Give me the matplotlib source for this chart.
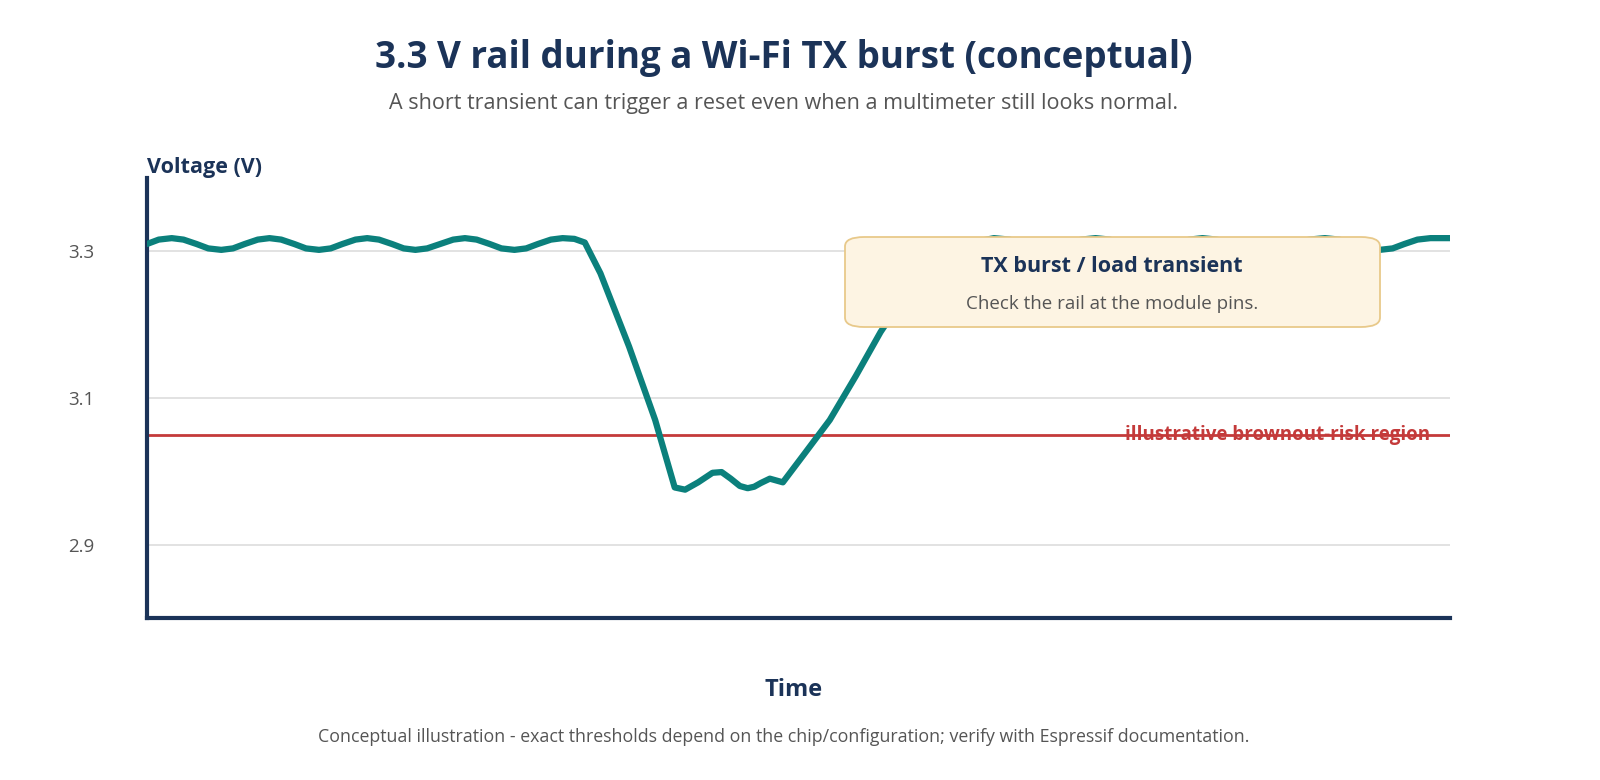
import matplotlib.pyplot as plt
from matplotlib.patches import FancyBboxPatch

plt.rcParams['font.family'] = ['Open Sans', 'Noto Sans', 'DejaVu Sans']

NAVY = '#1b3358'
GRAY = '#555555'
TEAL = '#0b807c'
RED = '#c43a3a'

# time in arbitrary units (0..100), voltage in V
time = [0, 0.9, 1.9, 2.8, 3.8, 4.7, 5.7, 6.6, 7.5, 8.5, 9.4, 10.3, 11.3, 12.2, 13.2,
        14.1, 15.0, 16.0, 16.9, 17.8, 18.8, 19.7, 20.6, 21.5, 22.5, 23.5, 24.4,
        25.3, 26.3, 27.2, 28.2, 29.1, 30.0, 31.0, 31.9, 32.8, 33.6, 34.8, 37.0, 39.0,
        40.5, 41.3, 42.3, 43.4, 44.1, 44.8, 45.5, 46.1, 46.6, 47.1, 47.8, 48.8,
        50.5, 52.4, 54.4, 56.3, 57.8, 59.3, 60.9, 62.4, 63.9, 65.0, 66.2, 67.3,
        68.5, 69.6, 70.6, 71.7, 72.8, 73.9, 74.9, 76.0, 77.0, 78.0, 79.0, 80.0,
        81.0, 82.1, 83.2, 84.3, 85.4, 86.6, 87.9, 89.2, 90.4, 91.5, 92.5, 93.6,
        94.6, 95.6, 96.5, 97.5, 98.5, 100]
volts = [3.31, 3.316, 3.318, 3.316, 3.31, 3.304, 3.302, 3.304, 3.31, 3.316, 3.318,
         3.316, 3.31, 3.304, 3.302, 3.304, 3.31, 3.316, 3.318, 3.316, 3.31, 3.304,
         3.302, 3.304, 3.31, 3.316, 3.318, 3.316, 3.31, 3.304, 3.302, 3.304, 3.31,
         3.316, 3.318, 3.317, 3.312, 3.27, 3.17, 3.07,
         2.978, 2.975, 2.985, 2.998, 2.999, 2.99, 2.98, 2.977, 2.979, 2.984, 2.99, 2.985,
         3.025, 3.07, 3.13, 3.19, 3.23, 3.26, 3.285, 3.30, 3.314, 3.318, 3.316, 3.31,
         3.302, 3.304, 3.31, 3.316, 3.318, 3.316, 3.31, 3.304, 3.302, 3.304, 3.31,
         3.316, 3.318, 3.316, 3.31, 3.304, 3.302, 3.304, 3.31, 3.316, 3.318, 3.316,
         3.31, 3.304, 3.302, 3.304, 3.31, 3.316, 3.318, 3.318]
yticks = [2.9, 3.1, 3.3]
brownout = 3.05

fig = plt.figure(figsize=(16, 7.8), dpi=100)
ax = fig.add_axes([147 / 1600, 1 - 618 / 780, 1303 / 1600, 440 / 780])

ax.set_xlim(0, 100)
ax.set_ylim(2.8, 3.4)
ax.set_yticks(yticks)
ax.set_yticklabels([f'{v:.1f}' for v in yticks], color=GRAY, fontsize=13.5)
ax.set_xticks([])
ax.tick_params(axis='y', length=0, pad=38)
ax.grid(axis='y', color='#dddddd', lw=1.2)
ax.set_axisbelow(True)
for s in ['top', 'right']:
    ax.spines[s].set_visible(False)
for s in ['left', 'bottom']:
    ax.spines[s].set_color(NAVY)
    ax.spines[s].set_linewidth(3)

ax.plot(time, volts, color=TEAL, lw=4.5, solid_joinstyle='round', solid_capstyle='round', zorder=3)

ax.text(98.5, brownout, 'illustrative brownout-risk region', color=RED, fontsize=13.5,
        fontweight='bold', ha='right', va='center', zorder=2)
ax.axhline(brownout, color=RED, lw=2, zorder=2.5)

box = FancyBboxPatch((845 / 1600, 1 - 327 / 780), 535 / 1600, 90 / 780,
                     boxstyle='round,pad=0,rounding_size=0.012', transform=fig.transFigure,
                     facecolor='#fdf4e3', edgecolor='#e8c98a', lw=1.3, zorder=5)
fig.add_artist(box)
fig.text(1112 / 1600, 1 - 266 / 780, 'TX burst / load transient', ha='center', va='center',
         fontsize=15.5, fontweight='bold', color=NAVY, zorder=6)
fig.text(1112 / 1600, 1 - 304 / 780, 'Check the rail at the module pins.', ha='center',
         va='center', fontsize=13.5, color=GRAY, zorder=6)

fig.text(784 / 1600, 1 - 58 / 780, '3.3 V rail during a Wi-Fi TX burst (conceptual)', ha='center',
         va='center', fontsize=26.5, fontweight='bold', color=NAVY)
fig.text(784 / 1600, 1 - 104 / 780, 'A short transient can trigger a reset even when a multimeter still looks normal.',
         ha='center', va='center', fontsize=15.5, color=GRAY)
fig.text(147 / 1600, 1 - 168 / 780, 'Voltage (V)', ha='left', va='center', fontsize=15.5,
         fontweight='bold', color=NAVY)
fig.text(794 / 1600, 1 - 690 / 780, 'Time', ha='center', va='center', fontsize=17,
         fontweight='bold', color=NAVY)
fig.text(784 / 1600, 1 - 737 / 780,
         'Conceptual illustration - exact thresholds depend on the chip/configuration; verify with Espressif documentation.',
         ha='center', va='center', fontsize=12.8, color=GRAY)

fig.savefig('out.png', dpi=100)
